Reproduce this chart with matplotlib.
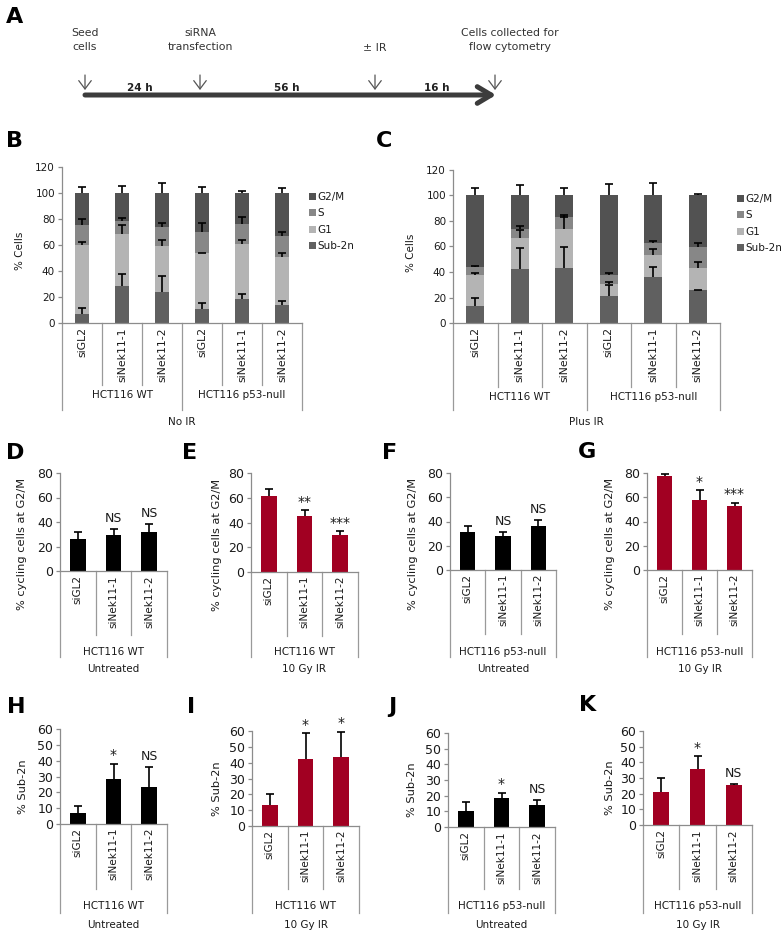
import numpy as np
import matplotlib
matplotlib.use('Agg')
import matplotlib.pyplot as plt
from matplotlib.patches import Patch

W, H = 783, 934

siRNAs = ['siGL2', 'siNek11-1', 'siNek11-2']
cell_lines = ['HCT116 WT', 'HCT116 p53-null']
phases = ['Sub-2n', 'G1', 'S', 'G2/M']

# B: no IR, % cells per phase (WT x3, p53-null x3)
b_sub2n = [7, 28.5, 23.5, 10.5, 18.5, 14]
b_g1 = [53, 39.5, 35.5, 43, 42.5, 37]
b_s = [15, 10, 15, 16.5, 15, 16]
b_g2m = [25, 22, 26, 30, 24, 33]
b_sub2n_err = [4.5, 9.5, 12.5, 5, 3.5, 3]
b_g1_err = [2, 7, 5, 0.5, 3, 3]
b_s_err = [5, 2.5, 3, 7, 5.5, 3]
b_g2m_err = [4.5, 5.5, 7.5, 4.5, 1.5, 3.5]

# C: plus IR
c_sub2n = [13, 42.5, 43.5, 21, 36, 25.5]
c_g1 = [25, 24.5, 30.5, 9.5, 17, 17.5]
c_s = [6, 7, 9, 7, 9.5, 16.5]
c_g2m = [56, 26, 17, 62.5, 37.5, 40.5]
c_sub2n_err = [7, 16, 16, 9, 8, 0.5]
c_g1_err = [1, 6, 9, 1.5, 5, 5]
c_s_err = [1, 2, 1.5, 1.5, 2, 3]
c_g2m_err = [6, 8, 5.5, 9, 10, 1]

# D-G: % cycling cells at G2/M
d_vals, d_err, d_sig = [26, 29.5, 31.5], [6, 5, 7], ['', 'NS', 'NS']
e_vals, e_err, e_sig = [61.5, 45, 29.5], [5.5, 5, 3.5], ['', '**', '***']
f_vals, f_err, f_sig = [31.5, 28, 36.5], [4.5, 3.5, 4.5], ['', 'NS', 'NS']
g_vals, g_err, g_sig = [77.5, 57.5, 53], [1.5, 8.5, 2.5], ['', '*', '***']

# H-K: % Sub-2n
h_vals, h_err, h_sig = [7, 28.5, 23.5], [4.5, 9.5, 12.5], ['', '*', 'NS']
i_vals, i_err, i_sig = [13, 42.5, 43.5], [7, 16, 16], ['', '*', '*']
j_vals, j_err, j_sig = [10.5, 18.5, 14], [5.5, 3.5, 3], ['', '*', 'NS']
k_vals, k_err, k_sig = [21, 36, 25.5], [9, 8, 0.5], ['', '*', 'NS']

phase_colors = ['#606060', '#b4b4b4', '#878787', '#525252']
RED = '#a10022'
AXCOL = '#8c8c8c'
TXT = '#1a1a1a'

plt.rcParams['font.family'] = ['DejaVu Sans']

fig = plt.figure(figsize=(W / 100, H / 100), dpi=100)


def px_ax(left, right, top, bottom):
    return fig.add_axes([left / W, 1 - bottom / H, (right - left) / W, (bottom - top) / H])


def ftext(x, y, s, **kw):
    fig.text(x / W, 1 - y / H, s, **kw)


def style(ax, ymax, step, fs):
    ax.set_xlim(-0.5, ax.n - 0.5)
    ax.set_ylim(0, ymax)
    ax.set_yticks(np.arange(0, ymax + 1, step))
    ax.set_xticks([])
    for sp in ['top', 'right']:
        ax.spines[sp].set_visible(False)
    for sp in ['left', 'bottom']:
        ax.spines[sp].set_color(AXCOL)
        ax.spines[sp].set_linewidth(0.9)
    ax.tick_params(axis='y', length=3, width=0.9, color=AXCOL, labelsize=fs,
                   labelcolor=TXT, pad=2)
    ax.patch.set_alpha(0)


def errbars(ax, x, tops, err):
    _, caps, _ = ax.errorbar(x, tops, yerr=[np.zeros(len(err)), err], fmt='none',
                             ecolor='black', elinewidth=1.2, capsize=3.2, capthick=1.2,
                             zorder=4)
    caps[0].set_visible(False)


def table(ax, y0, top, minor_bot, outer_bot, labels, lab_fs, groups, group_y, group_fs,
          cond, cond_y):
    frac = lambda ypx: (y0 - ypx) / (y0 - top)
    trans = ax.get_xaxis_transform()
    n = len(labels)
    for i in range(n + 1):
        bot = outer_bot if i % 3 == 0 else minor_bot
        ax.plot([i - 0.5, i - 0.5], [0, frac(bot)], transform=trans, clip_on=False,
                color='#9a9a9a', lw=0.9)
    for i, lab in enumerate(labels):
        ax.text(i, frac(y0 + 4), lab, rotation=90, ha='center', va='top',
                transform=trans, fontsize=lab_fs, color=TXT)
    for g, name in enumerate(groups):
        ax.text(g * 3 + 1, frac(group_y), name, ha='center', va='center',
                transform=trans, fontsize=group_fs, color=TXT)
    ax.text((n - 1) / 2, frac(cond_y), cond, ha='center', va='center',
            transform=trans, fontsize=group_fs, color=TXT)


# ---------------- A: timeline ----------------
top_ax = fig.add_axes([0, 0, 1, 1])
top_ax.set_xlim(0, W)
top_ax.set_ylim(H, 0)
top_ax.axis('off')

events = ['Seed\ncells', 'siRNA\ntransfection', '± IR', 'Cells collected for\nflow cytometry']
event_x = [85, 200, 375, 495]
event_y = [40, 40, 48, 40]
event_text_x = [85, 200, 375, 510]
intervals = ['24 h', '56 h', '16 h']
interval_x = [140, 287, 437]

top_ax.annotate('', xy=(496, 95), xytext=(85, 95),
                arrowprops=dict(arrowstyle='->,head_length=1.0,head_width=0.6',
                                lw=3.6, color='#3c3c3c', shrinkA=0, shrinkB=0))
for lab, x, y, tx in zip(events, event_x, event_y, event_text_x):
    top_ax.text(tx, y, lab, ha='center', va='center', fontsize=7.8, color='#333333',
                linespacing=1.45)
    top_ax.annotate('', xy=(x, 90), xytext=(x, 75),
                    arrowprops=dict(arrowstyle='->,head_length=0.6,head_width=0.45',
                                    lw=0.9, color='#555555', shrinkA=0, shrinkB=0))
for lab, x in zip(intervals, interval_x):
    top_ax.text(x, 88, lab, ha='center', va='center', fontsize=7.5, fontweight='bold',
                color='#222222')

# ---------------- B & C: stacked bars ----------------
stack_labels = siRNAs * 2
stack_panels = [
    ((62, 302, 166.7, 323), [b_sub2n, b_g1, b_s, b_g2m],
     [b_sub2n_err, b_g1_err, b_s_err, b_g2m_err], 'No IR', 0.37, (309, 192),
     (385, 410, 395, 422)),
    ((453, 720, 170, 323), [c_sub2n, c_g1, c_s, c_g2m],
     [c_sub2n_err, c_g1_err, c_s_err, c_g2m_err], 'Plus IR', 0.4, (737, 194),
     (387, 410, 397, 422)),
]
for (l, r, t, b), segs, errs, cond, bw, leg_xy, tab in stack_panels:
    ax = px_ax(l, r, t, b)
    ax.n = 6
    x = np.arange(6)
    bottom = np.zeros(6)
    handles = []
    for seg, err, col, ph in zip(segs, errs, phase_colors, phases):
        ax.bar(x, seg, bottom=bottom, width=bw, color=col, zorder=2)
        bottom = bottom + np.array(seg)
        errbars(ax, x, bottom, err)
        handles.append(Patch(facecolor=col, label=ph))
    style(ax, 120, 20, 7.5)
    table(ax, b, t, tab[0], tab[1], stack_labels, 7.8, cell_lines, tab[2], 7.5, cond, tab[3])
    ftext(l - 42, (t + b) / 2 + 6, '% Cells', rotation=90, ha='center', va='center',
          fontsize=7.5, color=TXT)
    fig.legend(handles=handles[::-1], loc='upper left',
               bbox_to_anchor=(leg_xy[0] / W, 1 - leg_xy[1] / H), frameon=False,
               fontsize=7.5, handlelength=0.65, handleheight=0.65, handletextpad=0.2,
               labelspacing=0.62, borderpad=0, borderaxespad=0, labelcolor=TXT)

# ---------------- D-K: simple bar panels ----------------
small_panels = [
    # vals, err, sig, color, ymax, step, ylabel, (l, r, top, y0), line, cond, ylab_x
    (d_vals, d_err, d_sig, 'black', 80, 20, '% cycling cells at G2/M', (60, 167, 473, 571), 0, 'Untreated', 22),
    (e_vals, e_err, e_sig, RED, 80, 20, '% cycling cells at G2/M', (251, 358, 473, 572), 0, '10 Gy IR', 217),
    (f_vals, f_err, f_sig, 'black', 80, 20, '% cycling cells at G2/M', (450, 556, 473, 570), 1, 'Untreated', 413),
    (g_vals, g_err, g_sig, RED, 80, 20, '% cycling cells at G2/M', (647, 752, 473, 570), 1, '10 Gy IR', 610),
    (h_vals, h_err, h_sig, 'black', 60, 10, '% Sub-2n', (60, 167, 729, 824), 0, 'Untreated', 23),
    (i_vals, i_err, i_sig, RED, 60, 10, '% Sub-2n', (252, 359, 731, 826), 0, '10 Gy IR', 217),
    (j_vals, j_err, j_sig, 'black', 60, 10, '% Sub-2n', (448, 555, 733, 827), 1, 'Untreated', 412),
    (k_vals, k_err, k_sig, RED, 60, 10, '% Sub-2n', (643, 752, 731, 825), 1, '10 Gy IR', 610),
]
for vals, err, sig, col, ymax, step, ylab, (l, r, t, b), line, cond, ylx in small_panels:
    ax = px_ax(l, r, t, b)
    ax.n = 3
    x = np.arange(3)
    ax.bar(x, vals, width=0.43, color=col, zorder=2)
    errbars(ax, x, vals, err)
    style(ax, ymax, step, 9)
    for xi, v, e, s in zip(x, vals, err, sig):
        if s:
            ax.annotate(s, (xi, v + e), xytext=(0, 1 if '*' in s else 3),
                        textcoords='offset points', ha='center', va='bottom',
                        fontsize=9 if s == 'NS' else 10, color=TXT)
    if ymax == 80:
        tab = (b + 64, 657, 652, 669)
    else:
        tab = (889, 913, 906, 925)
    table(ax, b, t, tab[0], tab[1], siRNAs, 7.6, [cell_lines[line]], tab[2], 7.5, cond,
          tab[3])
    ftext(ylx, (t + b) / 2 + (22 if ymax == 80 else 10), ylab, rotation=90,
          ha='center', va='center', fontsize=8.2, color=TXT)

# panel letters
letters = {'A': (15, 17), 'B': (14, 141), 'C': (384, 141), 'D': (15, 453), 'E': (190, 453),
           'F': (390, 453), 'G': (587, 452), 'H': (16, 707), 'I': (191, 707),
           'J': (392, 707), 'K': (588, 705)}
for k, (x, y) in letters.items():
    ftext(x, y, k, fontsize=16, fontweight='bold', ha='center', va='center', color='black')

fig.savefig('out.png', dpi=100)
